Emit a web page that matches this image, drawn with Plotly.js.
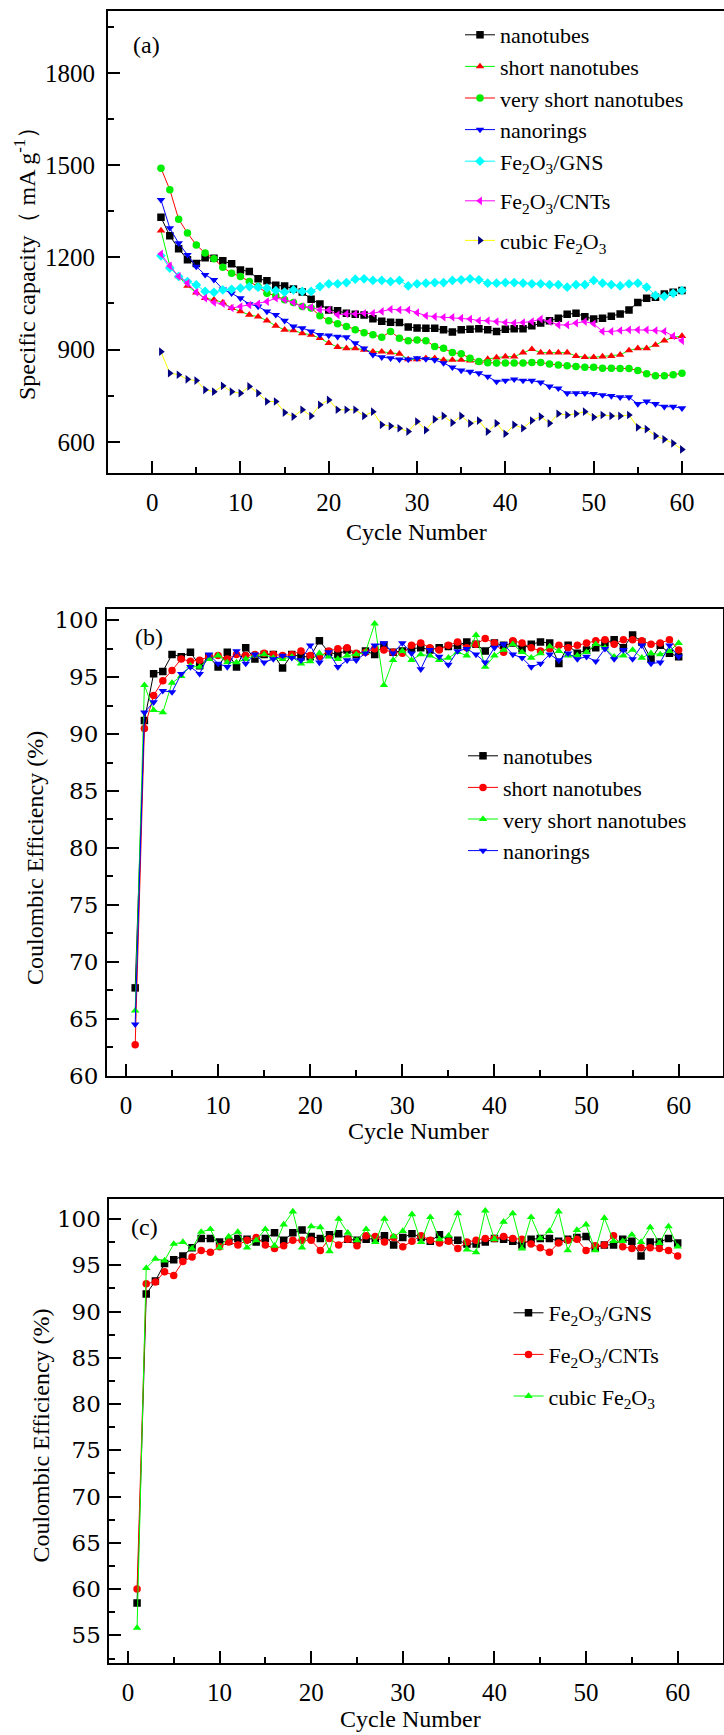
<!DOCTYPE html>
<html>
<head>
<meta charset="utf-8">
<script src="https://cdn.plot.ly/plotly-3.0.1.min.js"></script>
<style>
  html, body { margin: 0; padding: 0; background: #ffffff; }
  #chart { width: 724px; height: 1735px; }
</style>
</head>
<body>
<div id="chart"></div>
<script>
// ---------- data ----------
const cycles = [1,2,3,4,5,6,7,8,9,10,11,12,13,14,15,16,17,18,19,20,21,22,23,24,25,26,27,28,29,30,
                31,32,33,34,35,36,37,38,39,40,41,42,43,44,45,46,47,48,49,50,51,52,53,54,55,56,57,58,59,60];

// panel (a): specific capacity (mA g-1)
const capNanotubes = [1330,1270,1228,1192,1180,1199,1197,1189,1179,1159,1154,1130,1124,1109,1107,1097,1087,1064,1048,1029,
                      1026,1018,1015,1012,1000,992,989,988,973,970,969,969,964,957,964,966,968,964,959,966,
                      968,968,977,986,994,1002,1015,1018,1007,999,1002,1008,1016,1029,1053,1067,1070,1081,1086,1092];
const capShort = [1287,1172,1138,1107,1085,1067,1062,1053,1035,1024,1013,1007,994,977,964,962,953,948,937,921,
                  908,904,904,899,893,893,890,886,868,868,872,872,866,866,866,864,858,869,874,877,
                  877,890,901,890,890,890,890,879,875,875,877,879,883,897,904,904,915,929,940,944];
const capVeryShort = [1490,1420,1324,1279,1240,1214,1195,1168,1148,1138,1121,1105,1083,1075,1062,1053,1040,1035,1010,994,
                      984,975,964,955,948,940,959,937,929,931,929,910,904,890,886,872,861,857,856,856,
                      856,856,858,858,853,850,847,845,842,842,839,839,838,838,832,821,815,815,818,823];
const capNanorings = [1387,1295,1246,1208,1170,1143,1127,1096,1083,1067,1048,1040,1024,1013,994,975,970,959,948,946,
                      942,940,921,904,883,875,872,868,868,872,869,866,856,842,832,828,823,812,796,799,
                      803,799,799,793,780,774,758,758,758,756,752,749,745,745,723,731,723,714,714,709];
const capGNS = [1205,1165,1138,1121,1110,1089,1086,1094,1096,1100,1105,1103,1100,1092,1087,1094,1089,1089,1105,1114,
                1114,1118,1129,1130,1125,1125,1121,1125,1107,1114,1116,1118,1118,1125,1127,1130,1127,1116,1116,1118,
                1118,1116,1114,1114,1111,1111,1103,1111,1111,1125,1116,1111,1107,1114,1116,1103,1076,1073,1083,1092];
const capCNTs = [1211,1172,1138,1116,1086,1067,1053,1049,1035,1040,1045,1049,1056,1067,1062,1053,1040,1037,1029,1029,
                 1013,1016,1016,1018,1018,1024,1031,1029,1029,1020,1010,1007,1005,1005,1002,999,994,994,991,988,
                 986,988,991,999,991,980,980,986,991,984,959,959,962,964,964,964,962,959,944,929];
const capCubic = [893,823,818,803,799,769,763,782,763,758,780,758,731,731,695,682,704,684,720,736,
                  704,704,704,684,698,655,651,644,633,666,638,673,684,662,684,660,669,633,660,626,
                  655,644,669,682,660,691,687,691,698,680,687,684,684,687,647,641,619,608,595,575];

// panel (b): coulombic efficiency (%)
const ceNanotubes = [67.7,91.2,95.3,95.5,97.0,96.8,97.2,96.0,96.8,95.9,97.2,95.9,97.6,96.6,97.0,97.0,95.8,97.0,96.8,96.8,
                     98.2,97.2,97.0,97.4,97.0,97.3,97.0,97.8,97.2,97.3,97.5,97.6,97.4,97.6,97.7,97.8,98.1,97.9,97.3,98.0,
                     97.8,98.0,97.5,97.9,98.1,98.0,96.2,97.8,97.1,97.4,97.6,98.0,98.3,97.6,98.7,98.1,96.6,97.8,97.1,96.8];
const ceShort = [62.7,90.5,93.4,94.7,95.6,96.6,96.4,96.5,96.8,96.9,96.6,97.0,96.9,97.0,97.1,97.0,96.9,97.0,97.3,96.9,
                 96.8,97.3,97.5,97.6,97.1,97.2,97.5,97.4,97.2,97.1,97.8,98.0,97.6,97.4,97.8,98.1,97.6,97.9,98.4,98.0,
                 97.2,98.2,98.0,97.6,97.3,97.5,97.8,97.6,97.8,98.0,98.2,98.3,97.9,98.3,98.3,98.2,97.9,98.0,98.3,97.4];
const ceVeryShort = [65.7,94.3,92.1,91.9,94.5,95.1,96.0,95.9,96.6,96.9,96.3,96.3,96.6,96.9,97.0,96.7,96.6,96.8,96.2,96.4,
                     97.1,96.8,96.6,96.9,97.0,97.2,99.7,94.3,96.5,97.3,96.5,97.0,96.9,96.5,96.7,97.2,96.9,98.7,95.9,96.9,
                     97.4,97.9,97.2,96.7,97.1,97.7,97.3,96.9,96.9,97.2,97.9,97.6,96.8,96.9,97.4,96.7,97.1,97.0,97.3,98.0];
const ceNanorings = [64.5,91.9,92.8,93.8,93.7,95.3,95.9,95.3,97.0,96.2,95.9,97.3,96.2,97.0,96.3,96.6,96.9,96.7,96.5,97.8,
                     96.3,97.2,95.9,96.5,96.5,97.1,97.8,98.0,97.1,98.0,97.1,95.7,97.4,96.8,96.1,97.3,97.5,97.0,96.3,97.6,
                     97.9,97.0,96.7,95.9,96.2,97.0,96.5,97.1,96.6,96.8,96.4,97.5,96.6,97.4,96.6,97.8,96.2,96.3,97.8,96.8];

// panel (c): coulombic efficiency (%)
const ceGNS = [58.5,91.9,93.3,95.2,95.6,96.0,96.9,97.9,97.9,97.5,97.6,97.9,97.8,97.5,97.9,98.5,97.7,98.5,98.8,98.1,
               97.9,98.3,98.4,97.8,97.7,97.8,97.9,98.2,97.2,98.0,98.4,98.0,97.6,98.3,97.7,97.7,97.3,97.3,97.5,97.9,
               97.8,97.6,97.2,97.8,97.9,97.9,97.6,97.8,98.0,98.1,96.9,97.2,97.2,97.8,97.6,96.0,97.5,97.5,97.9,97.4];
const ceCNTs = [60.0,93.0,93.2,94.3,93.9,95.4,95.9,96.6,96.4,97.0,97.5,97.2,97.7,98.0,97.2,96.8,97.1,97.7,97.7,97.7,
                96.6,97.9,97.2,97.8,97.1,98.2,98.1,97.5,98.0,97.0,97.6,98.2,97.7,97.4,97.6,96.8,97.5,97.7,97.9,97.9,
                98.1,97.9,97.8,97.3,96.9,96.4,97.4,97.7,97.8,96.6,97.1,97.2,98.2,97.0,96.8,96.9,96.9,96.8,96.6,96.0];
const ceCubic = [55.8,94.7,95.7,95.5,97.3,97.5,96.8,98.6,98.9,96.9,98.1,98.6,96.9,97.7,98.9,97.1,99.4,100.8,96.9,99.2,
                 99.1,96.5,100.0,98.5,97.7,98.9,97.5,100.0,98.1,98.7,100.5,97.5,100.2,97.8,98.2,100.6,96.7,96.4,100.9,97.8,
                 99.7,100.6,96.8,100.2,97.9,98.7,100.8,96.6,98.8,99.4,96.6,100.1,97.6,97.6,98.3,97.5,99.1,97.4,99.2,97.0];

const namesA = ['nanotubes','short nanotubes','very short nanotubes','nanorings',
                'Fe<sub>2</sub>O<sub>3</sub>/GNS','Fe<sub>2</sub>O<sub>3</sub>/CNTs','cubic Fe<sub>2</sub>O<sub>3</sub>'];
const namesB = ['nanotubes','short nanotubes','very short nanotubes','nanorings'];
const namesC = ['Fe<sub>2</sub>O<sub>3</sub>/GNS','Fe<sub>2</sub>O<sub>3</sub>/CNTs','cubic Fe<sub>2</sub>O<sub>3</sub>'];

// ---------- styling ----------
const FONT = '"Liberation Serif", "Times New Roman", Times, serif';
const WIDE = '"DejaVu Serif", "Liberation Serif", serif';
const MS = 7.5;

function tr(x, y, name, lineColor, markerColor, symbol, xa, ya, legend, group) {
  const t = {
    x: x, y: y, name: name, type: 'scatter', mode: 'lines+markers',
    xaxis: xa, yaxis: ya, legend: legend,
    line: {color: lineColor, width: 1},
    marker: {color: markerColor, symbol: symbol, size: MS, line: {width: 0}},
    cliponaxis: true
  };
  if (group) t.legendgroup = group;
  return t;
}

const traces = [
  tr(cycles, capNanotubes, namesA[0], '#000000', '#000000', 'square', 'x', 'y', 'legend', 'g1'),
  tr(cycles, capShort, namesA[1], '#00ff00', '#ff0000', 'triangle-up', 'x', 'y', 'legend', 'g1'),
  tr(cycles, capVeryShort, namesA[2], '#ff0000', '#00ee00', 'circle', 'x', 'y', 'legend', 'g1'),
  tr(cycles, capNanorings, namesA[3], '#0000ff', '#0000ff', 'triangle-down', 'x', 'y', 'legend', 'g1'),
  tr(cycles, capGNS, namesA[4], '#00ffff', '#00ffff', 'diamond', 'x', 'y', 'legend', 'g1'),
  tr(cycles, capCNTs, namesA[5], '#ff00ff', '#ff00ff', 'triangle-left', 'x', 'y', 'legend', 'g6'),
  tr(cycles, capCubic, namesA[6], '#ffff00', '#000080', 'triangle-right', 'x', 'y', 'legend', 'g7'),

  tr(cycles, ceNanotubes, namesB[0], '#000000', '#000000', 'square', 'x2', 'y2', 'legend2'),
  tr(cycles, ceShort, namesB[1], '#ff0000', '#ff0000', 'circle', 'x2', 'y2', 'legend2'),
  tr(cycles, ceVeryShort, namesB[2], '#00ff00', '#00ff00', 'triangle-up', 'x2', 'y2', 'legend2'),
  tr(cycles, ceNanorings, namesB[3], '#0000ff', '#0000ff', 'triangle-down', 'x2', 'y2', 'legend2'),

  tr(cycles, ceGNS, namesC[0], '#000000', '#000000', 'square', 'x3', 'y3', 'legend3', 'c1'),
  tr(cycles, ceCNTs, namesC[1], '#ff0000', '#ff0000', 'circle', 'x3', 'y3', 'legend3', 'c2'),
  tr(cycles, ceCubic, namesC[2], '#00ff00', '#00ff00', 'triangle-up', 'x3', 'y3', 'legend3', 'c3')
];

const W = 724, H = 1735;
const px = v => v / W;
const py = v => 1 - v / H;

function xAxis(domL, domR, range, anchor, mirror) {
  return {
    domain: [px(domL), px(domR)], range: range, anchor: anchor,
    tickmode: 'linear', tick0: 0, dtick: 10,
    ticks: 'inside', ticklen: 12, tickwidth: 2, tickcolor: '#000',
    minor: {ticks: 'inside', ticklen: 6, tickwidth: 2, tickcolor: '#000', dtick: 5, tick0: 0},
    showline: true, linecolor: '#000', linewidth: 2, mirror: mirror,
    showgrid: false, zeroline: false,
    tickfont: {family: FONT, size: 25, color: '#000'},
    ticklabelstandoff: 6
  };
}
function yAxis(domB, domT, range, anchor, dtick, mirror, standoff, fam, fsize) {
  return {
    domain: [py(domB), py(domT)], range: range, anchor: anchor,
    tickmode: 'linear', tick0: 0, dtick: dtick,
    ticks: 'inside', ticklen: 12, tickwidth: 2, tickcolor: '#000',
    minor: {ticks: 'inside', ticklen: 6, tickwidth: 2, tickcolor: '#000', dtick: dtick / 2, tick0: 0},
    showline: true, linecolor: '#000', linewidth: 2, mirror: mirror,
    showgrid: false, zeroline: false,
    tickfont: {family: fam, size: fsize, color: '#000'},
    ticklabelstandoff: standoff
  };
}

function ann(text, x, y, angle) {
  return {text: text, xref: 'paper', yref: 'paper', x: px(x), y: py(y),
          xanchor: 'center', yanchor: 'middle', showarrow: false, textangle: angle || 0,
          font: {family: FONT, size: 24, color: '#000'}};
}

function legendCfg(left, top, gap) {
  return {x: px(left), y: py(top), xanchor: 'left', yanchor: 'top',
          bgcolor: 'rgba(0,0,0,0)', borderwidth: 0, itemwidth: 30,
          tracegroupgap: gap, itemclick: false, itemdoubleclick: false,
          font: {family: FONT, size: 22, color: '#000'}};
}

const layout = {
  width: W, height: H,
  margin: {l: 0, r: 0, t: 0, b: 0, pad: 0},
  paper_bgcolor: '#ffffff', plot_bgcolor: '#ffffff',
  font: {family: FONT, size: 24, color: '#000'},
  showlegend: true,
  xaxis: xAxis(108, 724, [-5, 64.76], 'y', true),
  yaxis: yAxis(472.5, 11.4, [500, 2000], 'x', 300, false, 6, FONT, 25),
  xaxis2: xAxis(107, 722.5, [-2.06, 64.76], 'y2', true),
  yaxis2: yAxis(1075.5, 608.6, [60, 101.03], 'x2', 5, true, 2, WIDE, 23),
  xaxis3: xAxis(109.4, 722.5, [-2.02, 64.89], 'y3', true),
  yaxis3: yAxis(1663.4, 1199, [51.97, 102.16], 'x3', 5, true, 2, WIDE, 23),
  legend: legendCfg(460, 14, 8),
  legend2: legendCfg(463, 735, 8),
  legend3: legendCfg(508.5, 1292, 10),
  annotations: [
    ann('(a)', 146, 45),
    ann('(b)', 149, 637),
    ann('(c)', 144, 1227),
    ann('Cycle Number', 416, 532),
    ann('Cycle Number', 418, 1131),
    ann('Cycle Number', 410, 1719),
    ann('Specific capacity（ mA g<sup>-1</sup>）', 25, 258, -90),
    ann('Coulombic Efficiency (%)', 35, 858, -90),
    ann('Coulombic Efficiency (%)', 40.6, 1436, -90)
  ]
};

Plotly.newPlot('chart', traces, layout, {staticPlot: true, displayModeBar: false, responsive: false});
</script>
</body>
</html>
